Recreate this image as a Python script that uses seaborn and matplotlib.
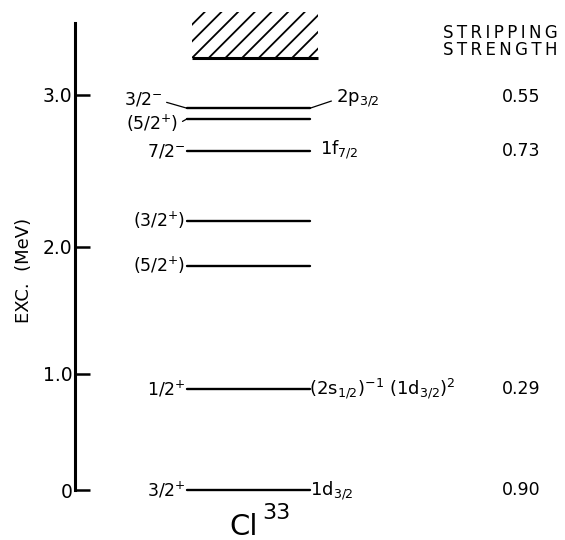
import numpy as np
import pandas as pd
import matplotlib
matplotlib.use("Agg")
import matplotlib.pyplot as plt
import seaborn as sns
from matplotlib.patches import Rectangle

# ---- Cl33 level scheme -------------------------------------------------
energies = [0.0, 0.87, 1.85, 2.17, 2.63, 2.84, 2.91]          # MeV
spins = [r"3/2$^{+}$", r"1/2$^{+}$", r"(5/2$^{+}$)", r"(3/2$^{+}$)",
         r"7/2$^{-}$", r"(5/2$^{+}$)", r"3/2$^{-}$"]
configs = [r"1d$_{3/2}$", r"(2s$_{1/2}$)$^{-1}$ (1d$_{3/2}$)$^{2}$", "", "",
           r"1f$_{7/2}$", "", r"2p$_{3/2}$"]
strengths = ["0.90", "0.29", "", "", "0.73", "", "0.55"]
continuum = [3.24, 3.54]                                        # hatched band, MeV
y_ticks = [0, 1, 2, 3]
y_tick_labels = ["0", "1.0", "2.0", "3.0"]

# ---- energy axis: piecewise-linear scale through the tick marks ---------
scale_E = [-1.0, 0.0, 1.0, 2.0, 3.0, 4.0]
scale_h = [-116.0, 0.0, 116.0, 243.0, 395.0, 547.0]


def fwd(e):
    return np.interp(e, scale_E, scale_h)


def inv(h):
    return np.interp(h, scale_h, scale_E)


sns.set_theme(style="white", rc={
    "text.color": "black", "axes.labelcolor": "black",
    "xtick.color": "black", "ytick.color": "black",
    "axes.edgecolor": "black", "hatch.color": "black",
    "hatch.linewidth": 1.3,
})
plt.rcParams["font.family"] = ["DejaVu Sans"]
plt.rcParams["mathtext.default"] = "regular"

W, H = 565, 540
fig = plt.figure(figsize=(W / 100, H / 100), dpi=100)
ax = fig.add_axes([75 / W, 50 / H, 490 / W, 467 / H])
ax.set_yscale("function", functions=(fwd, inv))
ax.set_xlim(75, 565)
ax.set_ylim(0, 3.47)

PT = 72 / fig.dpi   # points per pixel

# ---- level lines ---------------------------------------------------------
X0, X1 = 187, 310
n = len(energies)
seg = pd.DataFrame({
    "level": np.repeat(np.arange(n), 2),
    "x": [X0, X1] * n,
    "E": np.repeat(energies, 2),
})
sns.lineplot(data=seg, x="x", y="E", units="level", estimator=None,
             sort=False, color="black", lw=1.7, ax=ax, legend=False)
for ln in ax.lines:
    ln.set_clip_on(False)

# ---- hatched continuum ---------------------------------------------------
ax.add_patch(Rectangle((192, continuum[0]), 126, continuum[1] - continuum[0],
                       fill=False, hatch="//", edgecolor="black", lw=0,
                       clip_on=False))
ax.hlines(continuum[0], 192, 318, color="black", lw=2.2, clip_on=False)


def put(text, x, e, dx=0.0, dy=0.0, link=None, size=12, **kw):
    props = None
    if link is not None:
        props = dict(arrowstyle="-", lw=0.9, color="black",
                     relpos=link, shrinkA=1, shrinkB=0)
    return ax.annotate(text, xy=(x, e), xytext=(dx * PT, dy * PT),
                       textcoords="offset points", annotation_clip=False,
                       fontsize=size, arrowprops=props, **kw)


# spin/parity labels: (dx px, dy px, connector)
spin_layout = {5: (-9, -4, (1.0, 0.45)), 6: (-25, 9, (1.0, 0.4))}
for i, (e, s) in enumerate(zip(energies, spins)):
    if i in spin_layout:
        dx, dy, link = spin_layout[i]
        put(s, X0, e, dx, dy, link=link, size=12.5, ha="right", va="center")
    else:
        put(s, X0, e, -2, -6, size=12.5, ha="right", va="baseline")

# shell-model configurations
config_layout = {0: (0, -5, None), 1: (-1, -6, None), 4: (10, -3.5, None),
                 6: (26, 5.5, (0.0, 0.45))}
for i, (e, c) in enumerate(zip(energies, configs)):
    if c:
        dx, dy, link = config_layout[i]
        put(c, X1, e, dx, dy, link=link, size=13, ha="left", va="baseline")

# stripping strengths
for i, (e, s) in enumerate(zip(energies, strengths)):
    if s:
        dy = 11 if i == 6 else 0
        put(s, 521, e, 0, dy, size=12.5, ha="center", va="center")

# ---- axes styling --------------------------------------------------------
for side in ("top", "right", "bottom"):
    ax.spines[side].set_visible(False)
ax.spines["left"].set_linewidth(2.2)
ax.set_xticks([])
ax.set_yticks(y_ticks)
ax.set_yticklabels(y_tick_labels)
ax.tick_params(axis="y", left=True, direction="in", length=11, width=1.8,
               pad=2, labelsize=13.5)
ax.set_xlabel("")
ax.set_ylabel("EXC.  (MeV)", fontsize=13)
ax.yaxis.set_label_coords(-0.086, 0.471)

# ---- titles --------------------------------------------------------------
fig.text(244 / W, 1 - 527 / H, "Cl", fontsize=21, ha="center", va="center")
fig.text(262 / W, 1 - 513 / H, "33", fontsize=16, ha="left", va="center")
thin = "\u2009"
fig.text(500 / W, 1 - 33 / H, thin.join("STRIPPING"), fontsize=12,
         ha="center", va="center")
fig.text(500 / W, 1 - 50 / H, thin.join("STRENGTH"), fontsize=12,
         ha="center", va="center")

fig.savefig("out.png", dpi=100)
